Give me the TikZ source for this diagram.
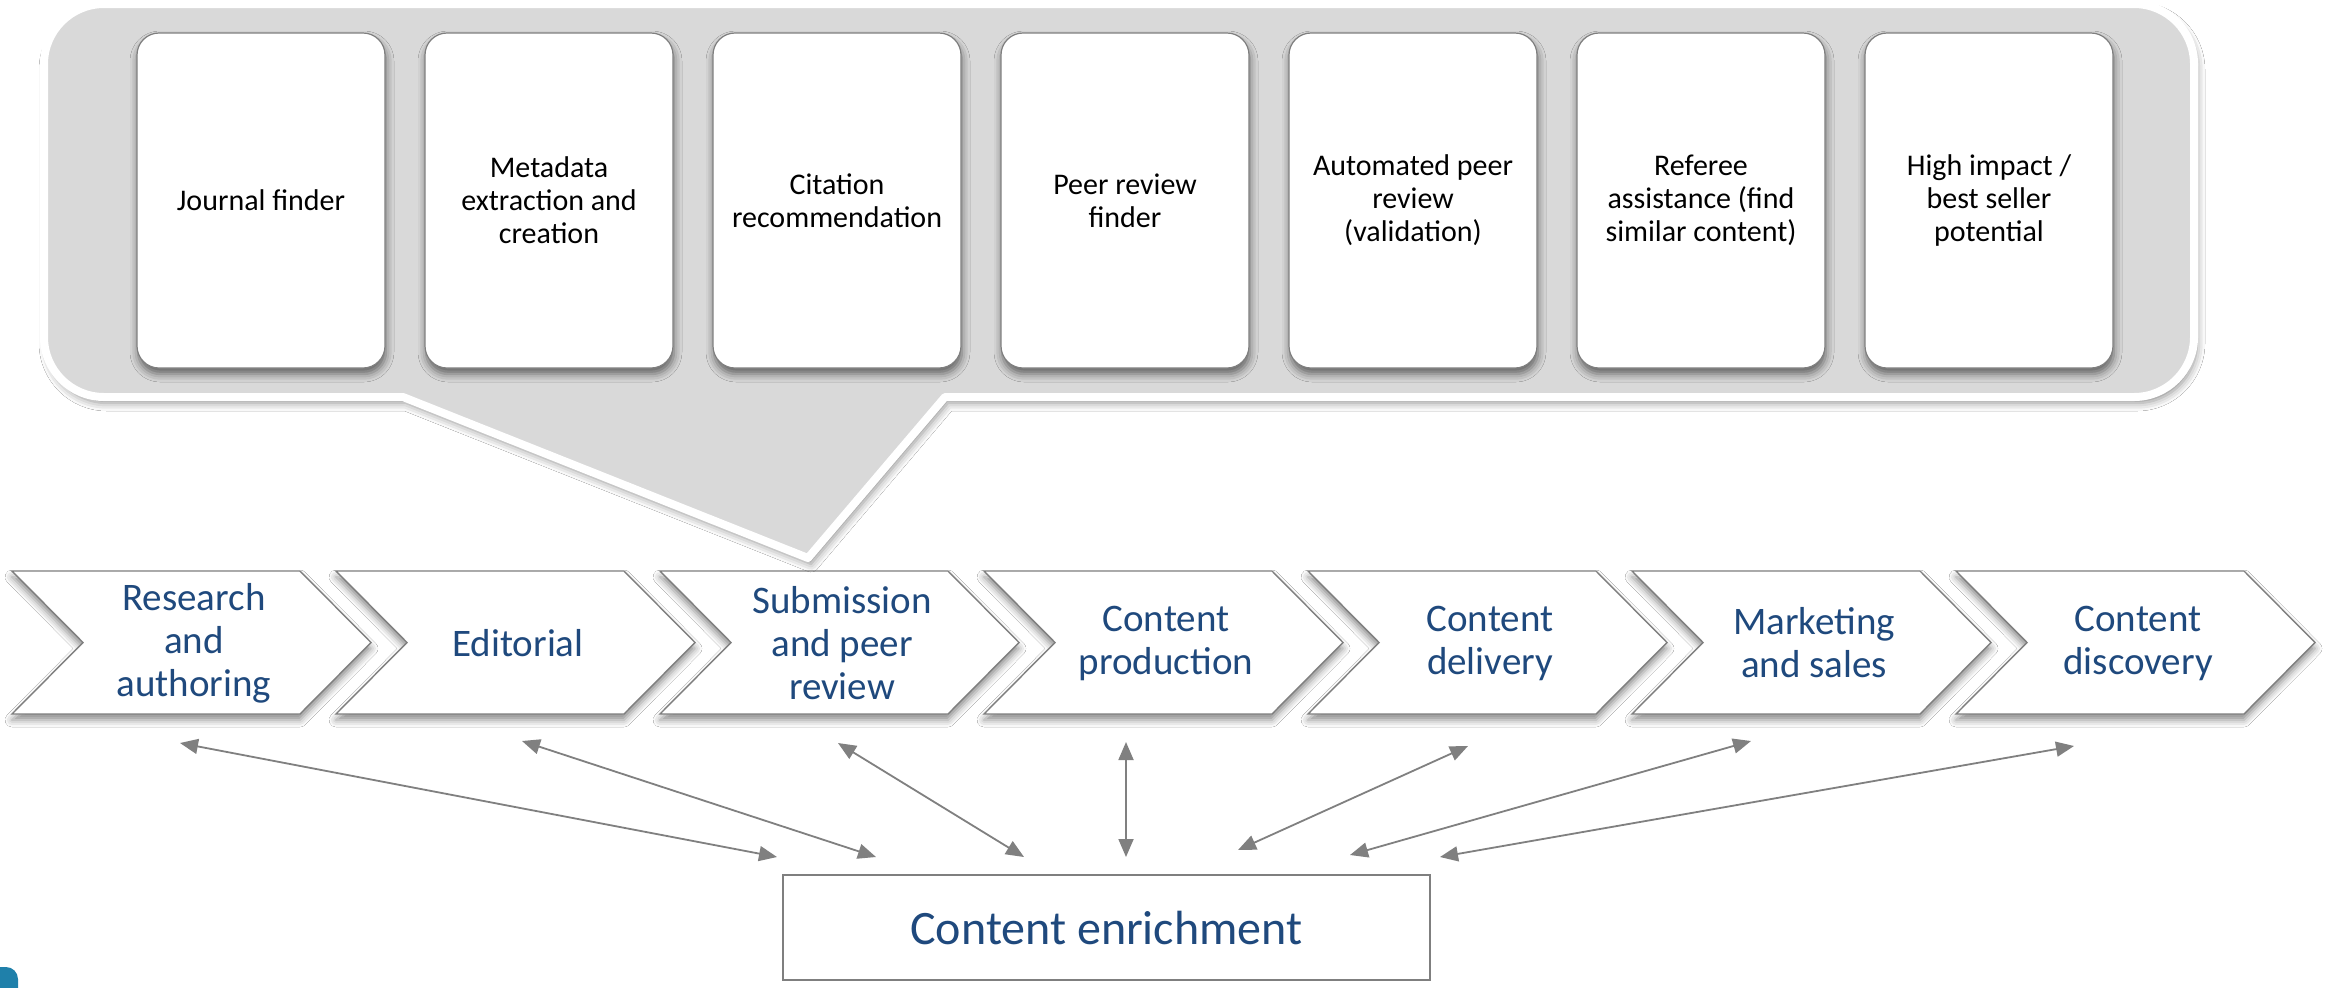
\documentclass[tikz,border=0pt]{standalone}
\usepackage{fontspec}
\setmainfont{Carlito}
\usetikzlibrary{arrows.meta,shadows.blur}
\definecolor{calloutgrey}{HTML}{D9D9D9}
\definecolor{lineGrey}{HTML}{7F7F7F}
\definecolor{textblue}{HTML}{1F497D}
\definecolor{arrowgrey}{HTML}{808080}
\definecolor{cornerblue}{HTML}{1F80AA}
\newcommand\cardfont{\fontsize{15}{16.5}\selectfont}
\newcommand\chevfont{\fontsize{19.5}{21.5}\selectfont}
\newcommand\boxfont{\fontsize{24}{28}\selectfont}
\newcommand\chevpath[1]{\draw[chev] (#1,571) -- ++(288,0) -- ++(71,71.5) -- ++(-71,71.5) -- ++(-288,0) -- ++(71,-71.5) -- cycle;}
\tikzset{
  callout/.style={fill=calloutgrey, draw=white, line width=4pt, line join=round,
    blur shadow={shadow xshift=1.5pt, shadow yshift=-3pt, shadow blur radius=4pt, shadow opacity=45}},
  card/.style={draw=lineGrey, fill=white, rounded corners=11pt, minimum width=124pt,
    minimum height=167.5pt, align=center, font=\cardfont, line width=0.6pt, inner sep=2pt,
    blur shadow={shadow xshift=0.5pt, shadow yshift=-3pt, shadow blur radius=4pt, shadow opacity=55}},
  chev/.style={draw=lineGrey, fill=white, line width=0.7pt, line join=miter,
    blur shadow={shadow xshift=0pt, shadow yshift=-3pt, shadow blur radius=3.5pt, shadow opacity=45}},
  chevtext/.style={align=center, text=textblue, font=\chevfont, inner sep=0pt},
  ebox/.style={draw=lineGrey, fill=white, line width=0.6pt, minimum width=323.5pt,
    minimum height=52.5pt, text=textblue, font=\boxfont},
  arr/.style={draw=arrowgrey, line width=0.9pt, {Triangle[length=9pt,width=7.5pt]}-{Triangle[length=9pt,width=7.5pt]}}
}
\begin{document}
\begin{tikzpicture}[x=0.5pt,y=-0.5pt]
\useasboundingbox (0,0) rectangle (2325,987);
\clip (0,0) rectangle (2325,987);
\fill[white] (0,0) rectangle (2325,987);
% chevrons
\chevpath{12}
\chevpath{336}
\chevpath{660}
\chevpath{984}
\chevpath{1308}
\chevpath{1632}
\chevpath{1956}
\node[chevtext] (c1) at (194,643) {Research\\and\\authoring};
\node[chevtext] (c2) at (518,643) {Editorial};
\node[chevtext] (c3) at (842,643) {Submission\\and peer\\review};
\node[chevtext] (c4) at (1166,643) {Content\\production};
\node[chevtext] (c5) at (1490,643) {Content\\delivery};
\node[chevtext] (c6) at (1814,643) {Marketing\\and sales};
\node[chevtext] (c7) at (2138,643) {Content\\discovery};
% callout
\draw[callout] (104,4) -- (2134,4) arc[start angle=90,end angle=0,radius=30pt]
  -- (2194,337) arc[start angle=0,end angle=-90,radius=30pt]
  -- (945,397) -- (808,558) -- (403,397) -- (104,397)
  arc[start angle=270,end angle=180,radius=30pt]
  -- (44,64) arc[start angle=180,end angle=90,radius=30pt] -- cycle;
% cards
\node[card] (k1) at (261,200.5) {Journal finder};
\node[card] (k2) at (549,200.5) {Metadata\\extraction and\\creation};
\node[card] (k3) at (837,200.5) {Citation\\recommendation};
\node[card] (k4) at (1125,200.5) {Peer review\\finder};
\node[card] (k5) at (1413,200.5) {Automated peer\\review\\(validation)};
\node[card] (k6) at (1701,200.5) {Referee\\assistance (find\\similar content)};
\node[card] (k7) at (1989,200.5) {High impact /\\best seller\\potential};
% enrichment box
\node[ebox] (enrich) at (1106.5,927.5) {Content enrichment};
% arrow end points
\coordinate (u1) at (180,743);
\coordinate (u2) at (522,741);
\coordinate (u3) at (838,743);
\coordinate (u4) at (1126,742);
\coordinate (u5) at (1468,746);
\coordinate (u6) at (1751,741);
\coordinate (u7) at (2074,746);
\coordinate (l1) at (777,857);
\coordinate (l2) at (876,857);
\coordinate (l3) at (1024,857);
\coordinate (l4) at (1126,857);
\coordinate (l5) at (1238,850);
\coordinate (l6) at (1350,855);
\coordinate (l7) at (1440,857);
\foreach \i in {1,...,7} {\draw[arr] (u\i) -- (l\i);}
% corner mark
\fill[cornerblue, rounded corners=6pt] (-30,967) rectangle (18,1030);
\end{tikzpicture}
\end{document}
